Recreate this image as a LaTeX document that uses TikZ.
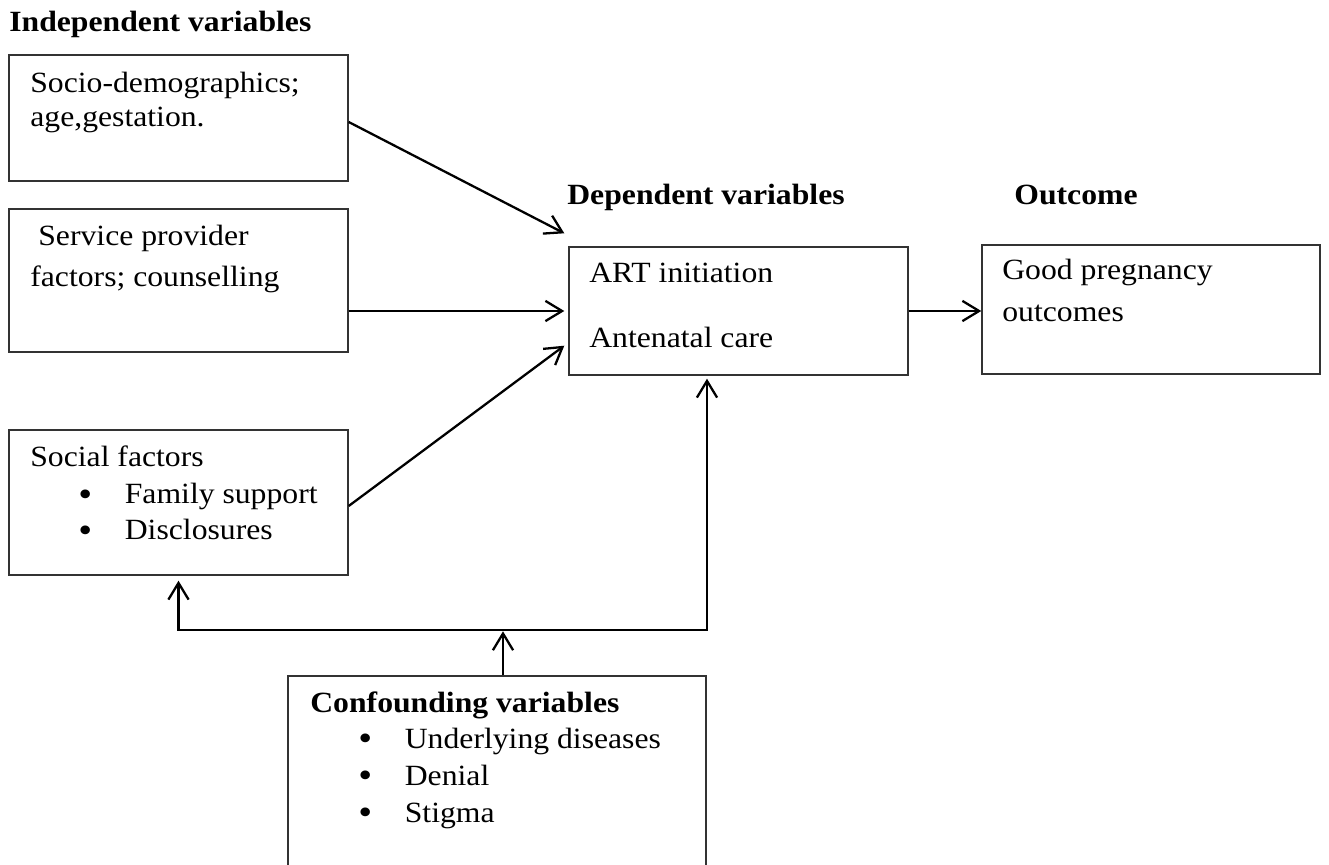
\documentclass[tikz,border=0pt]{standalone}
\usepackage{graphicx}
\usepackage{fontspec}
\setmainfont{Liberation Serif}[FakeStretch=1.08]
\usetikzlibrary{arrows.meta,calc,positioning}
\tikzset{
    >={Straight Barb[length=9.5pt,width=11.5pt]},
    boks/.style={
           rectangle,
           draw=black!80, line width=0.8pt,
           minimum width=6.78cm,
           inner sep=0pt},
    pil/.style={
           ->,
           line width=1.3pt},
    tekst/.style={
           anchor=base west,
           inner sep=0pt,
           font=\fontsize{16.7}{20}\selectfont},
    overskrift/.style={
           tekst,
           font=\fontsize{16.7}{20}\selectfont\bfseries}
}
\newcommand{\punktum}{\makebox[0.93cm][l]{\smash{\raisebox{-0.07em}{\scalebox{1.25}{\textbullet}}}}}
\begin{document}
\begin{tikzpicture}
        \useasboundingbox (0,0) rectangle (26.58,-17.3);
        % headings
        \node[overskrift] (indep) at (0.18,-0.64) {Independent variables};
        \node[overskrift] (deplab) at (11.34,-4.10) {Dependent variables};
        \node[overskrift] (outlab) at (20.28,-4.10) {Outcome};

        % boxes
        \node[boks, minimum height=2.52cm] (socio) at (3.57,-2.36) {};
        \node[boks, minimum height=2.86cm] (service) at (3.57,-5.61) {};
        \node[boks, minimum height=2.90cm] (social) at (3.57,-10.05) {};
        \node[boks, minimum height=2.56cm] (dep) at (14.77,-6.22) {};
        \node[boks, minimum width=6.76cm, minimum height=2.58cm] (outcome) at (23.02,-6.19) {};
        \node[boks, minimum width=8.36cm, minimum height=4cm] (conf) at (9.94,-15.52) {};

        % box texts
        \node[tekst] (socio1) at (0.60,-1.86) {Socio-demographics;};
        \node[tekst] (socio2) at (0.60,-2.54) {age,gestation.};
        \node[tekst] (service1) at (0.76,-4.92) {Service provider};
        \node[tekst] (service2) at (0.60,-5.74) {factors; counselling};
        \node[tekst] (social1) at (0.60,-9.34) {Social factors};
        \node[tekst] (social2) at (1.56,-10.08) {\punktum Family support};
        \node[tekst] (social3) at (1.56,-10.80) {\punktum Disclosures};
        \node[tekst] (dep1) at (11.78,-5.66) {ART initiation};
        \node[tekst] (dep2) at (11.78,-6.96) {Antenatal care};
        \node[tekst] (outcome1) at (20.04,-5.60) {Good pregnancy};
        \node[tekst] (outcome2) at (20.04,-6.44) {outcomes};
        \node[overskrift] (conf1) at (6.20,-14.24) {Confounding variables};
        \node[tekst] (conf2) at (7.16,-14.96) {\punktum Underlying diseases};
        \node[tekst] (conf3) at (7.16,-15.70) {\punktum Denial};
        \node[tekst] (conf4) at (7.16,-16.44) {\punktum Stigma};

        % arrows
        \draw[pil] ([yshift=-0.08cm]socio.east) -- ([xshift=-0.08cm,yshift=0.26cm]dep.north west);
        \draw[pil] ([yshift=-0.61cm]service.east) -- ([xshift=-0.08cm]dep.west);
        \draw[pil] ([yshift=-0.07cm]social.east) -- ([xshift=-0.08cm,yshift=0.6cm]dep.south west);
        \draw[pil] (dep.east) -- (dep.east -| outcome.west);
        \draw[pil,<->] ([yshift=-0.1cm]social.south) -- ++(0,-0.98) -| ([xshift=-0.63cm,yshift=-0.06cm]dep.south);
        \draw[pil] ([xshift=0.12cm]conf.north) -- ++(0,0.88);
\end{tikzpicture}
\end{document}
